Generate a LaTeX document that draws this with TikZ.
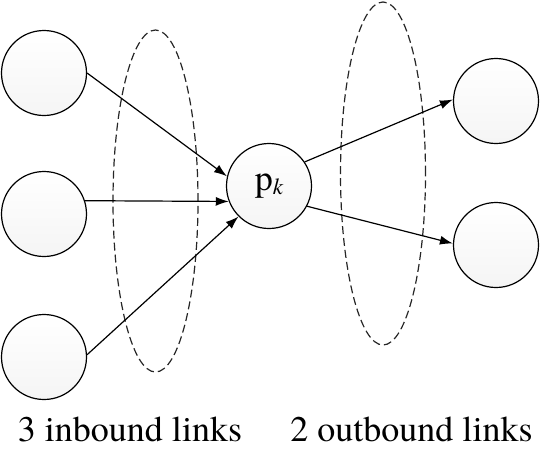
\documentclass[tikz,border=0pt]{standalone}
\usepackage{fontspec}
\setmainfont{texgyretermes}[Extension=.otf,UprightFont=*-regular,ItalicFont=*-italic]
\usetikzlibrary{arrows.meta}

\begin{document}
\begin{tikzpicture}[x=1pt,y=-1pt,
  peer/.style={circle,draw,line width=1.2pt,minimum size=85pt,inner sep=0pt,
    top color=white,bottom color=gray!8},
  link/.style={line width=1.2pt,-{Latex[length=13pt,width=9pt]}},
  group/.style={dash pattern=on 8pt off 4pt,line width=1.2pt,black!85},
  caption/.style={anchor=base,font=\fontsize{36}{36}\selectfont}]

\useasboundingbox (0,0) rectangle (543,448);

% Link groups
\draw[group] (155.5,201) ellipse [x radius=42.5pt, y radius=171pt];
\draw[group] (383,173.5) ellipse [x radius=42.5pt, y radius=171.5pt];

% Peers
\node[peer] (in1) at (44,73) {};
\node[peer] (in2) at (44,214) {};
\node[peer] (in3) at (44,357) {};
\node[peer,font=\fontsize{36}{36}\selectfont] (pk) at (269,186)
  {p\raisebox{-4pt}{\fontsize{23}{23}\selectfont\itshape k}};
\node[peer] (out1) at (496,101) {};
\node[peer] (out2) at (496,245) {};

% Inbound links
\draw[link] (in1.east) -- (pk.167);
\draw[link] (in2.18) -- (pk.201);
\draw[link] (in3.3) -- (pk.225);

% Outbound links
\draw[link] (pk.34) -- (out1.178);
\draw[link] (pk.-28) -- (out2.178);

% Labels
\node[caption] (inlabel) at (130,441) {3 inbound links};
\node[caption] (outlabel) at (411.5,441) {2 outbound links};

\end{tikzpicture}
\end{document}
